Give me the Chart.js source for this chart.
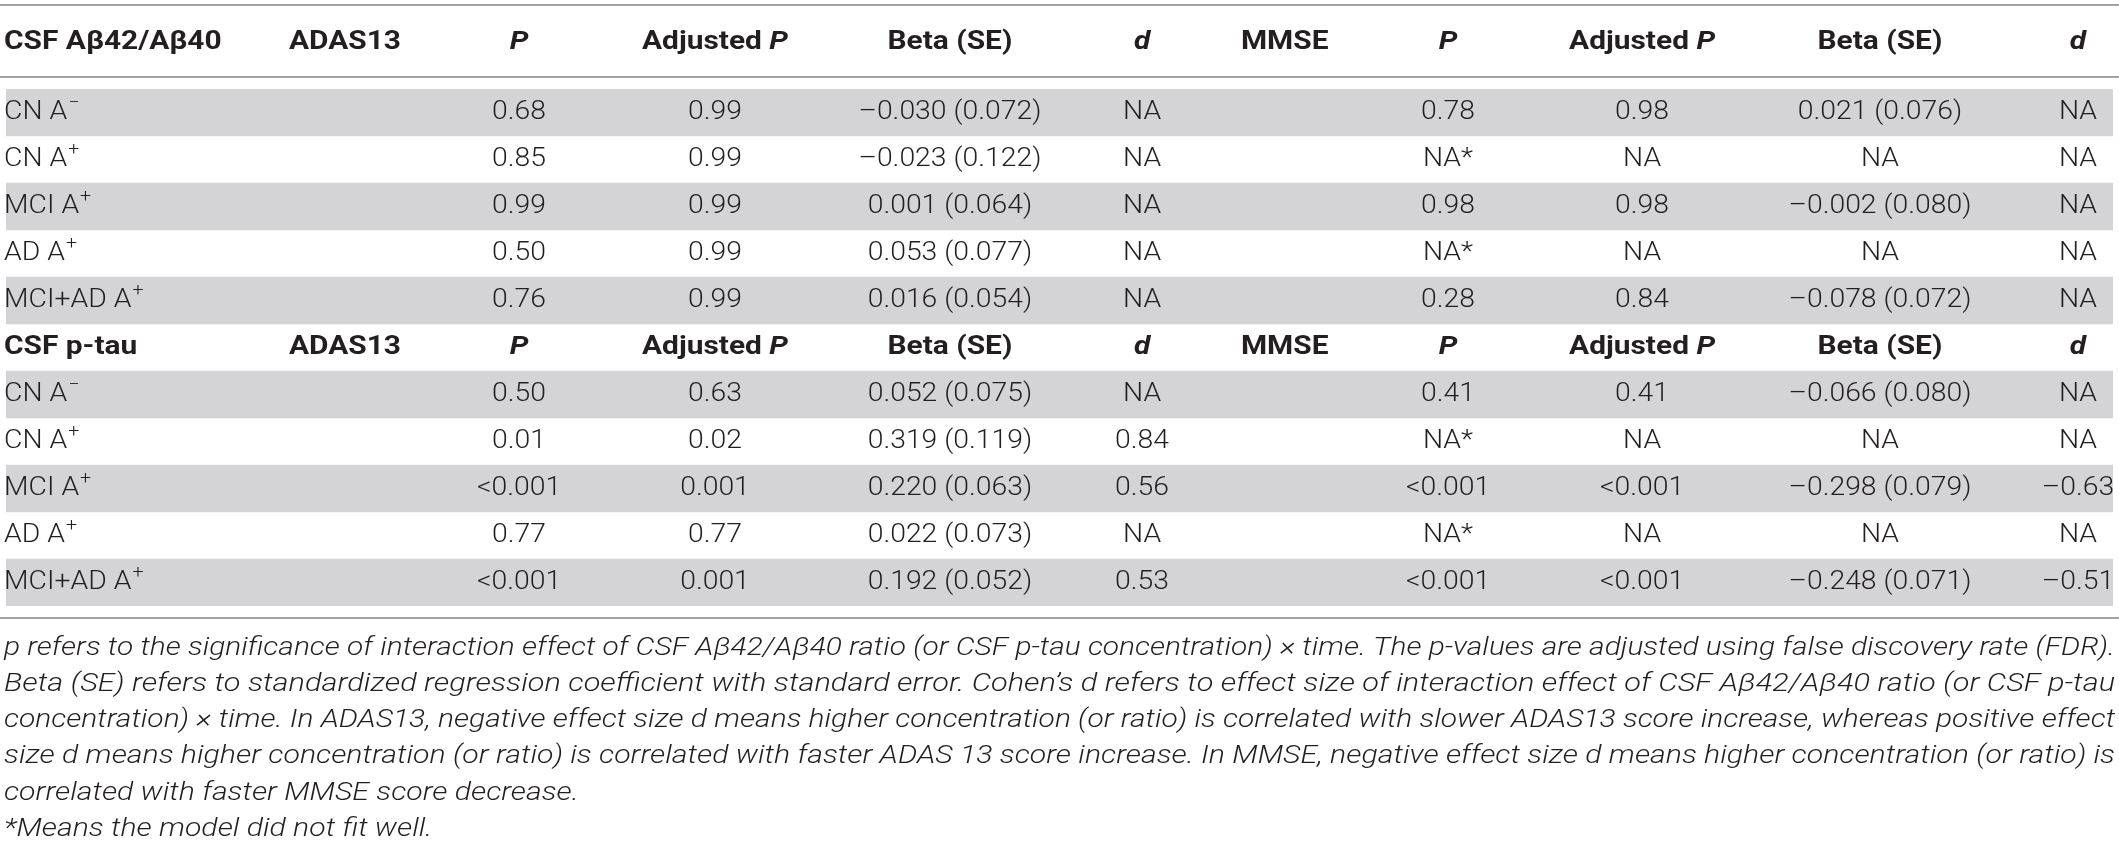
<!DOCTYPE html>
<html lang="en">
<head>
    <meta charset="UTF-8">
    <title>CSF biomarkers and cognitive decline</title>
    <script src="https://cdn.jsdelivr.net/npm/chart.js"></script>
    <style>
        html, body { margin: 0; padding: 0; background: #fff; }
        #wrap { width: 2119px; height: 849px; }
    </style>
</head>
<body>
    <div id="wrap"><canvas id="table-chart" width="2119" height="849"></canvas></div>

    <script>
        // row labels (A followed by a superscript sign)
        const groupTitles = ['CSF Aβ42/Aβ40', 'CSF p-tau'];
        const rowLabels = ['CN A', 'CN A', 'MCI A', 'AD A', 'MCI+AD A'];
        const rowSigns = ['−', '+', '+', '+', '+'];

        // CSF Aβ42/Aβ40 block
        const abAdasP = ['0.68', '0.85', '0.99', '0.50', '0.76'];
        const abAdasAdj = ['0.99', '0.99', '0.99', '0.99', '0.99'];
        const abAdasBeta = ['–0.030 (0.072)', '–0.023 (0.122)', '0.001 (0.064)', '0.053 (0.077)', '0.016 (0.054)'];
        const abAdasD = ['NA', 'NA', 'NA', 'NA', 'NA'];
        const abMmseP = ['0.78', 'NA*', '0.98', 'NA*', '0.28'];
        const abMmseAdj = ['0.98', 'NA', '0.98', 'NA', '0.84'];
        const abMmseBeta = ['0.021 (0.076)', 'NA', '–0.002 (0.080)', 'NA', '–0.078 (0.072)'];
        const abMmseD = ['NA', 'NA', 'NA', 'NA', 'NA'];

        // CSF p-tau block
        const tauAdasP = ['0.50', '0.01', '<0.001', '0.77', '<0.001'];
        const tauAdasAdj = ['0.63', '0.02', '0.001', '0.77', '0.001'];
        const tauAdasBeta = ['0.052 (0.075)', '0.319 (0.119)', '0.220 (0.063)', '0.022 (0.073)', '0.192 (0.052)'];
        const tauAdasD = ['NA', '0.84', '0.56', 'NA', '0.53'];
        const tauMmseP = ['0.41', 'NA*', '<0.001', 'NA*', '<0.001'];
        const tauMmseAdj = ['0.41', 'NA', '<0.001', 'NA', '<0.001'];
        const tauMmseBeta = ['–0.066 (0.080)', 'NA', '–0.298 (0.079)', 'NA', '–0.248 (0.071)'];
        const tauMmseD = ['NA', 'NA', '–0.63', 'NA', '–0.51'];

        // column headers: [text, italic]
        const headP = [['P', true]];
        const headAdj = [['Adjusted ', false], ['P', true]];
        const headBeta = [['Beta (SE)', false]];
        const headD = [['d', true]];

        const footnote = [
            'p refers to the significance of interaction effect of CSF Aβ42/Aβ40 ratio (or CSF p-tau concentration) × time. The p-values are adjusted using false discovery rate (FDR).',
            'Beta (SE) refers to standardized regression coefficient with standard error. Cohen’s d refers to effect size of interaction effect of CSF Aβ42/Aβ40 ratio (or CSF p-tau',
            'concentration) × time. In ADAS13, negative effect size d means higher concentration (or ratio) is correlated with slower ADAS13 score increase, whereas positive effect',
            'size d means higher concentration (or ratio) is correlated with faster ADAS 13 score increase. In MMSE, negative effect size d means higher concentration (or ratio) is',
            'correlated with faster MMSE score decrease.',
            '*Means the model did not fit well.'
        ];

        // layout
        const colX = [0, 0.1343, 0.2435, 0.3365, 0.448, 0.5392, 0.5861, 0.6844, 0.7765, 0.8894, 0.9834];
        const INK = '#231f20';
        const SHADE = '#d4d4d6';
        const RULE = '#a2a2a2';
        const FONT = 'Roboto, "Liberation Sans", Arial, sans-serif';
        const BODY = '300 26px ' + FONT;
        const SUP = '300 18px ' + FONT;
        const BOLD = 'bold 26px ' + FONT;
        const BOLD_IT = 'italic bold 26px ' + FONT;
        const NOTE = 'italic 300 26px ' + FONT;

        const rowIds = [];
        const shading = [];
        for (let i = 0; i < 11; i++) {
            rowIds.push('r' + i);
            // gray on 1st, 3rd, 5th row of each block; sub-header row stays white
            const k = i < 5 ? i : i - 6;
            shading.push(i !== 5 && k % 2 === 0 ? 1 : null);
        }

        let bodySx = 1, headSx = 1;

        function textAt(ctx, txt, x, y, sx, align) {
            ctx.save();
            ctx.translate(x, y);
            ctx.scale(sx, 1);
            ctx.textAlign = align;
            ctx.fillText(txt, 0, 0);
            ctx.restore();
        }

        function drawRich(ctx, segs, x, y) {
            let total = 0;
            segs.forEach(s => { ctx.font = s[1] ? BOLD_IT : BOLD; total += ctx.measureText(s[0]).width * headSx; });
            let cx = x - total / 2;
            segs.forEach(s => {
                ctx.font = s[1] ? BOLD_IT : BOLD;
                textAt(ctx, s[0], cx, y, headSx, 'left');
                cx += ctx.measureText(s[0]).width * headSx;
            });
        }

        function drawHeader(ctx, x, title, y) {
            ctx.font = BOLD;
            textAt(ctx, title, x(colX[0]) - 2, y, headSx, 'left');
            textAt(ctx, 'ADAS13', x(colX[1]), y, headSx, 'left');
            textAt(ctx, 'MMSE', x(colX[6]), y, headSx, 'left');
            [headP, headAdj, headBeta, headD].forEach((h, i) => {
                drawRich(ctx, h, x(colX[2 + i]), y);
                drawRich(ctx, h, x(colX[7 + i]), y);
            });
        }

        function drawBlock(ctx, x, yScale, start, cols) {
            const place = [2, 3, 4, 5, 7, 8, 9, 10];
            for (let r = 0; r < 5; r++) {
                const y = yScale.getPixelForValue(start + r);
                const lx = x(colX[0]) - 2;
                ctx.font = BODY;
                textAt(ctx, rowLabels[r], lx, y, bodySx, 'left');
                const w = ctx.measureText(rowLabels[r]).width * bodySx;
                ctx.font = SUP;
                textAt(ctx, rowSigns[r], lx + w + 1, y - 9, bodySx, 'left');
                ctx.font = BODY;
                cols.forEach((arr, c) => textAt(ctx, arr[r], x(colX[place[c]]), y, bodySx, 'center'));
            }
        }

        const tablePlugin = {
            id: 'tableText',
            afterDatasetsDraw(chart) {
                const ctx = chart.ctx;
                const xs = chart.scales.x;
                const ys = chart.scales.y;
                const x = v => xs.getPixelForValue(v);
                const area = chart.chartArea;
                ctx.save();
                ctx.fillStyle = INK;
                ctx.textBaseline = 'middle';

                // the printed table is set a little wider than the font, match its widths
                ctx.font = BODY;
                bodySx = 183 / ctx.measureText('–0.030 (0.072)').width;
                ctx.font = BOLD;
                headSx = 112 / ctx.measureText('ADAS13').width;

                // rules
                ctx.strokeStyle = RULE;
                ctx.lineWidth = 2;
                [5, area.top - 12, area.bottom + 12].forEach(yy => {
                    ctx.beginPath();
                    ctx.moveTo(0, yy);
                    ctx.lineTo(chart.width, yy);
                    ctx.stroke();
                });

                drawHeader(ctx, x, groupTitles[0], area.top - 47);
                drawHeader(ctx, x, groupTitles[1], ys.getPixelForValue(5));

                drawBlock(ctx, x, ys, 0, [abAdasP, abAdasAdj, abAdasBeta, abAdasD, abMmseP, abMmseAdj, abMmseBeta, abMmseD]);
                drawBlock(ctx, x, ys, 6, [tauAdasP, tauAdasAdj, tauAdasBeta, tauAdasD, tauMmseP, tauMmseAdj, tauMmseBeta, tauMmseD]);

                // footnote, first four lines justified to the full width
                ctx.font = NOTE;
                const full = area.right - area.left + 4;
                let sum = 0;
                const fits = footnote.map((line, i) => {
                    const f = full / ctx.measureText(line).width;
                    if (i < 4) sum += f;
                    return f;
                });
                const avg = sum / 4;
                footnote.forEach((line, i) => {
                    const yy = area.bottom + 42 + i * 36.3;
                    textAt(ctx, line, area.left - 2, yy, i < 4 ? fits[i] : avg, 'left');
                });
                ctx.restore();
            }
        };

        new Chart(document.getElementById('table-chart').getContext('2d'), {
            type: 'bar',
            data: {
                labels: rowIds,
                datasets: [{
                    data: shading,
                    backgroundColor: SHADE,
                    borderWidth: 0,
                    barPercentage: 1,
                    categoryPercentage: 1
                }]
            },
            options: {
                indexAxis: 'y',
                responsive: false,
                animation: false,
                devicePixelRatio: 1,
                layout: { padding: { top: 89, bottom: 243, left: 6, right: 6 } },
                plugins: { legend: { display: false }, tooltip: { enabled: false } },
                scales: {
                    x: { display: false, min: 0, max: 1 },
                    y: { display: false }
                }
            },
            plugins: [tablePlugin]
        });
    </script>
</body>
</html>
